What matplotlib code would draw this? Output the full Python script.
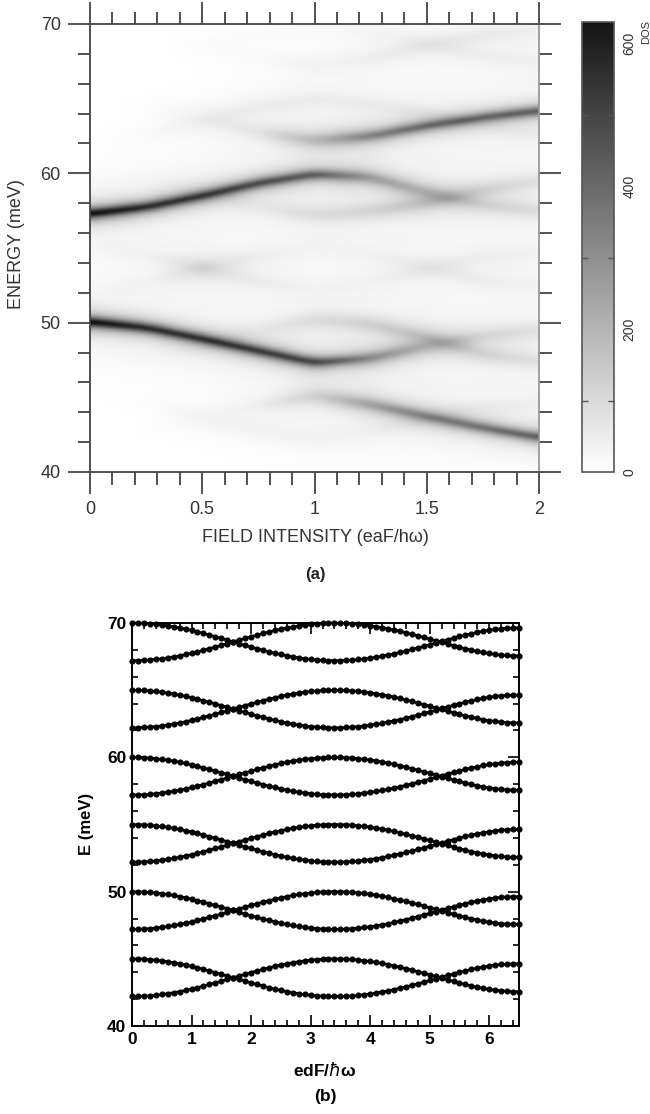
import numpy as np
import matplotlib.pyplot as plt
from matplotlib.colors import LinearSegmentedColormap
from matplotlib.ticker import MultipleLocator

# ---- (a) DOS ridges: centre energy [meV] and peak DOS read at these fields
field_pts = [0, 0.25, 0.5, 0.75, 1.0, 1.25, 1.5, 1.75, 2.0]

e_u50 = [50.05, 49.65, 48.9, 48.1, 47.3, 47.6, 48.4, 49.1, 49.5]
i_u50 = [640, 560, 540, 520, 480, 300, 160, 90, 70]
e_l50 = [47.2, 47.7, 48.6, 49.5, 50.2, 49.9, 49.0, 47.9, 47.4]
i_l50 = [0, 5, 15, 35, 80, 110, 130, 100, 70]

e_l60 = [57.3, 57.75, 58.5, 59.35, 59.95, 59.75, 58.75, 57.9, 57.5]
i_l60 = [640, 560, 520, 470, 420, 250, 170, 100, 80]
e_u60 = [60.0, 59.5, 58.6, 57.75, 57.2, 57.45, 58.05, 58.9, 59.5]
i_u60 = [0, 5, 20, 40, 80, 100, 130, 100, 70]

e_l45 = [42.2, 42.7, 43.6, 44.45, 45.1, 44.5, 43.7, 42.95, 42.3]
i_l45 = [0, 3, 10, 35, 110, 240, 320, 370, 420]
e_u45 = [45.0, 44.5, 43.6, 42.75, 42.2, 42.7, 43.6, 44.3, 44.6]
i_u45 = [0, 5, 20, 25, 25, 25, 30, 30, 30]

e_u65 = [65.0, 64.5, 63.6, 62.75, 62.2, 62.5, 63.2, 63.75, 64.2]
i_u65 = [0, 5, 20, 60, 180, 320, 390, 400, 420]
e_l65 = [62.2, 62.7, 63.6, 64.45, 65.0, 64.7, 64.0, 63.2, 62.5]
i_l65 = [0, 10, 30, 40, 40, 35, 30, 25, 25]

e_u55 = [55.0, 54.5, 53.65, 52.75, 52.2, 52.7, 53.6, 54.4, 54.7]
i_u55 = [5, 25, 60, 40, 25, 25, 35, 35, 30]
e_l55 = [52.2, 52.7, 53.65, 54.45, 55.0, 54.6, 53.7, 52.8, 52.5]
i_l55 = [3, 20, 60, 35, 20, 25, 35, 35, 30]

e_u70 = [70.0, 69.5, 68.6, 67.75, 67.2, 67.7, 68.6, 69.3, 69.6]
i_u70 = [0, 0, 5, 10, 25, 40, 45, 45, 40]
e_l70 = [67.2, 67.7, 68.6, 69.45, 70.0, 69.6, 68.7, 67.9, 67.5]
i_l70 = [0, 0, 5, 10, 15, 20, 30, 35, 35]

ridges = [(e_u50, i_u50), (e_l50, i_l50), (e_l60, i_l60), (e_u60, i_u60),
          (e_l45, i_l45), (e_u45, i_u45), (e_u65, i_u65), (e_l65, i_l65),
          (e_u55, i_u55), (e_l55, i_l55), (e_u70, i_u70), (e_l70, i_l70)]

cbar_ticks = [0, 200, 400, 600]

# ---- (b) level pairs: top of each pair at edF/hw = 0, and the splitting
pair_tops = [45, 50, 55, 60, 65, 70]
pair_gap = 2.8
x_b = np.arange(0, 6.51, 0.1)
shift = [0.000, 0.006, 0.024, 0.053, 0.095, 0.147, 0.210, 0.283, 0.365, 0.457,
         0.556, 0.663, 0.776, 0.895, 1.018, 1.143, 1.271, 1.400, 1.529, 1.657,
         1.782, 1.905, 2.024, 2.137, 2.244, 2.343, 2.435, 2.517, 2.590, 2.653,
         2.705, 2.747, 2.776, 2.794, 2.800, 2.794, 2.778, 2.751, 2.713, 2.664,
         2.606, 2.538, 2.462, 2.377, 2.284, 2.184, 2.078, 1.967, 1.851, 1.732,
         1.610, 1.487, 1.363, 1.240, 1.119, 1.002, 0.891, 0.787, 0.691, 0.606,
         0.532, 0.470, 0.421, 0.387, 0.366, 0.360]
shift = np.array(shift)

W, H = 650, 1114
fig = plt.figure(figsize=(W / 100, H / 100), dpi=100)


def box(l, t, r, b):
    return [l / W, 1 - b / H, (r - l) / W, (b - t) / H]


light = ['Liberation Sans', 'DejaVu Sans']
tcol = '#333333'

# ---------------- panel (a)
ax = fig.add_axes(box(90, 24, 539, 472))
F = np.linspace(0, 2, 401)
E = np.linspace(40, 70, 601)
dos = np.zeros((E.size, F.size))
kern = np.exp(-0.5 * (np.arange(-20, 21) / 8.0) ** 2)
kern /= kern.sum()
for e_pts, i_pts in ridges:
    ec = np.interp(F, field_pts, e_pts)
    ec = np.convolve(np.pad(ec, 20, mode='edge'), kern, mode='valid')
    amp = np.interp(F, field_pts, i_pts)
    # weak sidebands look broader than the main lines
    gam = 0.36 + 0.32 * (1 - np.clip(amp / 400, 0, 1))
    dos += amp * gam ** 2 / ((E[:, None] - ec) ** 2 + gam ** 2)

cmap = LinearSegmentedColormap.from_list('dos', ['#ffffff', '#141414'])
im = ax.imshow(dos, origin='lower', extent=[0, 2, 40, 70], aspect='auto',
               cmap=cmap, vmin=0, vmax=630, interpolation='bilinear')
ax.set_xlim(0, 2)
ax.set_ylim(40, 70)
ax.set_xticks([0, 0.5, 1, 1.5, 2])
ax.set_xticklabels(['0', '0.5', '1', '1.5', '2'])
ax.set_yticks([40, 50, 60, 70])
ax.xaxis.set_minor_locator(MultipleLocator(0.1))
ax.yaxis.set_minor_locator(MultipleLocator(2))
ax.tick_params(which='both', direction='out', top=True, right=True,
               color='#444444', width=1.3, labelcolor=tcol, labelsize=13)
ax.tick_params(which='major', length=16, pad=5)
ax.tick_params(which='minor', length=9)
for lab in ax.get_xticklabels() + ax.get_yticklabels():
    lab.set_family(light)
for side in ['left', 'bottom', 'top']:
    ax.spines[side].set_color('#444444')
    ax.spines[side].set_linewidth(1.3)
ax.spines['right'].set_color('#999999')
ax.spines['right'].set_linewidth(1.3)

fig.text(17 / W, 1 - 244 / H, 'ENERGY (meV)', rotation=90, ha='center',
         va='center', fontsize=13, color=tcol, family=light)
fig.text(315 / W, 1 - 538 / H, 'FIELD INTENSITY (eaF/hω)', ha='center',
         va='center', fontsize=13, color=tcol, family=light)
fig.text(315 / W, 1 - 575 / H, '(a)', ha='center', va='center',
         fontsize=12, fontweight='bold', color='#222222', family=light)

cax = fig.add_axes(box(582, 22, 614, 472))
cb = fig.colorbar(im, cax=cax)
cb.outline.set_edgecolor('#555555')
cb.outline.set_linewidth(1.2)
cb.set_ticks(cbar_ticks)
cb.set_ticklabels([str(v) for v in cbar_ticks])
cax.yaxis.set_minor_locator(MultipleLocator(100))
cax.tick_params(which='both', direction='in', left=True, right=True,
                color='#555555', width=1)
cax.tick_params(which='major', length=0, pad=6, labelsize=10, labelcolor=tcol)
cax.tick_params(which='minor', length=4)
for lab in cax.get_yticklabels():
    lab.set_rotation(90)
    lab.set_va('center')
    lab.set_family(light)
fig.text(646 / W, 1 - 32 / H, 'DOS', rotation=90, ha='center', va='center',
         fontsize=8, color=tcol, family=light)

# ---------------- panel (b)
bx = fig.add_axes(box(132, 623, 519, 1026))
for top in pair_tops:
    for yv in (top - shift, top - pair_gap + shift):
        bx.plot(x_b, yv, '-', color='black', lw=1.8, marker='o', ms=3.4,
                mec='black', mfc='black', clip_on=False)
bx.set_xlim(0, 6.5)
bx.set_ylim(40, 70)
bx.set_xticks(range(0, 7))
bx.set_yticks([40, 50, 60, 70])
bx.xaxis.set_minor_locator(MultipleLocator(0.2))
bx.yaxis.set_minor_locator(MultipleLocator(2))
bx.tick_params(which='both', direction='in', top=True, right=True,
               width=1.2, labelsize=12.5)
bx.tick_params(which='major', length=8, pad=4)
bx.tick_params(which='minor', length=4.5)
for lab in bx.get_xticklabels() + bx.get_yticklabels():
    lab.set_family(light)
    lab.set_fontweight('bold')
for side in bx.spines:
    bx.spines[side].set_linewidth(1.4)

fig.text(87 / W, 1 - 824 / H, 'E (meV)', rotation=90, ha='center',
         va='center', fontsize=12, fontweight='bold', family=light)
fig.text(325 / W, 1 - 1070 / H, r'edF/$\hbar$ω', ha='center',
         va='center', fontsize=12.5, fontweight='bold', family=light)
fig.text(325 / W, 1 - 1097 / H, '(b)', ha='center', va='center',
         fontsize=12.5, fontweight='bold', family=light)

fig.savefig('out.png', dpi=100)
